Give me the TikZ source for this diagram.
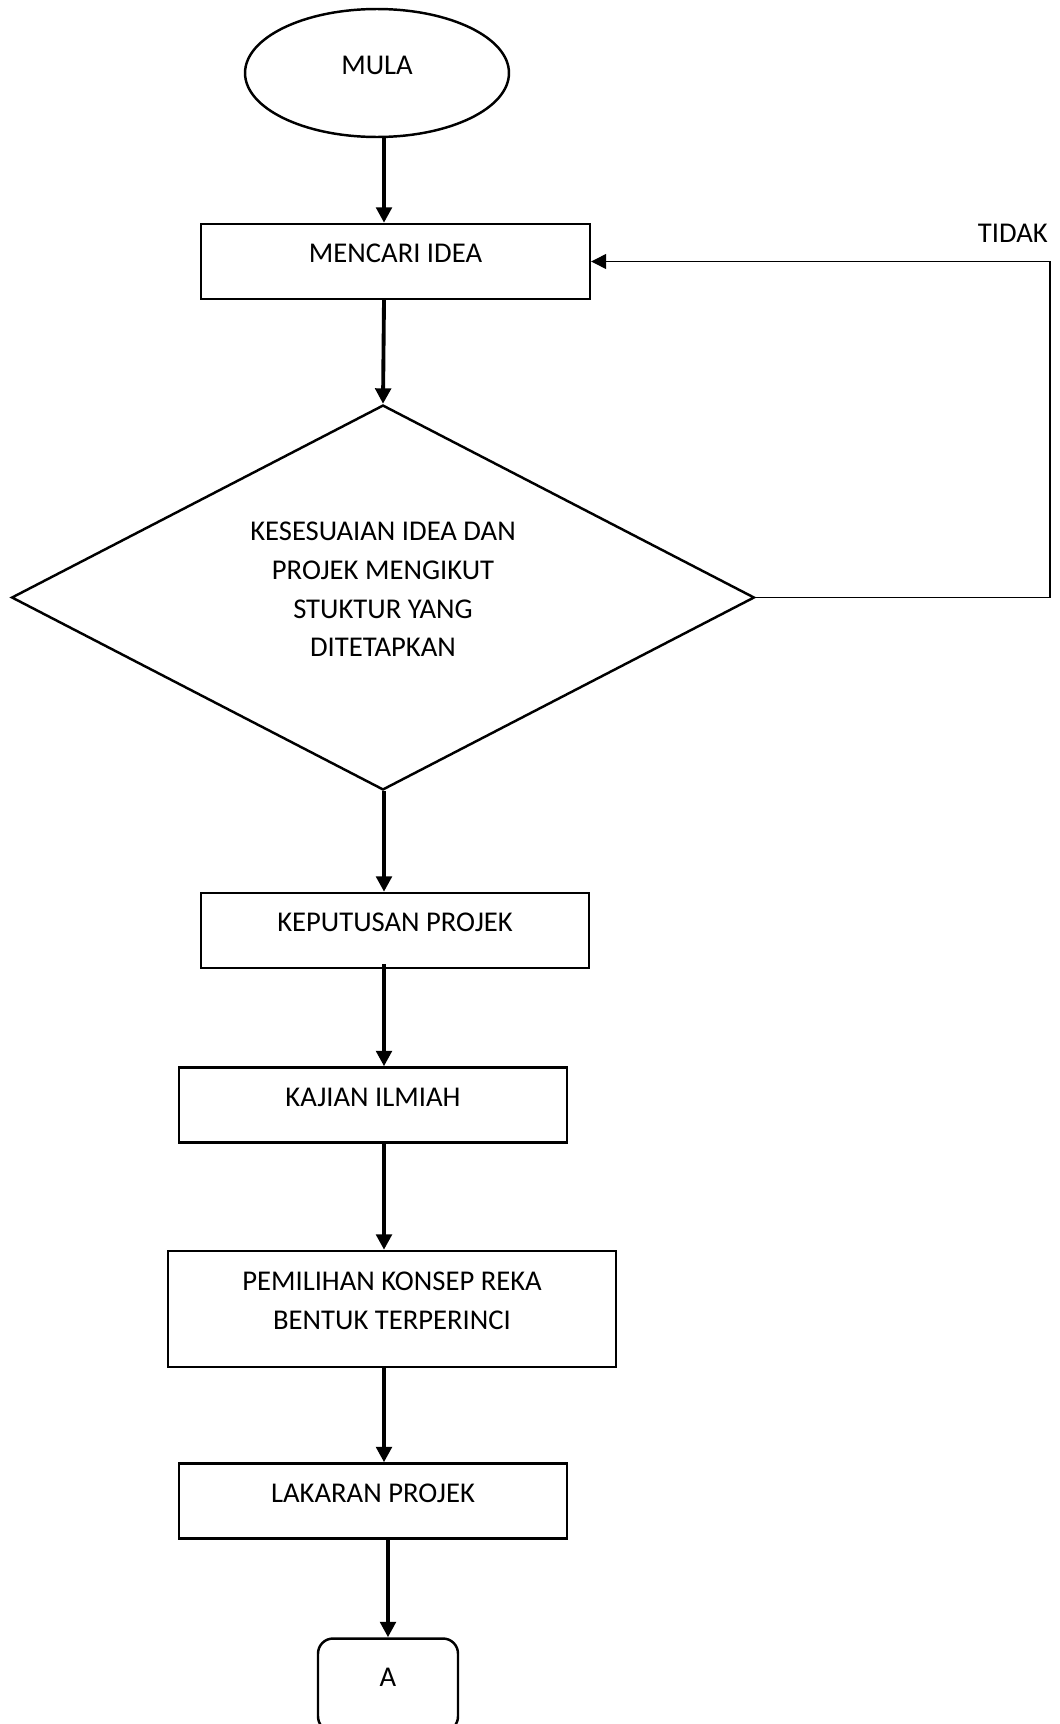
\documentclass[tikz,border=0pt]{standalone}
\usepackage{fontspec}
\setmainfont{Carlito}
\usetikzlibrary{shapes.geometric,arrows.meta}

\newcommand{\boxtxt}[1]{\raisebox{0.16cm}[\height][\depth]{#1}}

\begin{document}
\begin{tikzpicture}[
  x=0.02cm, y=-0.02cm,
  font=\fontsize{16.3}{22}\selectfont,
  every node/.style={draw, line width=1.4pt},
  procbox/.style={rectangle, minimum width=7.76cm, minimum height=1.5cm},
  decide/.style={diamond, aspect=2, align=center, minimum width=14.86cm, minimum height=7.7cm},
  flow/.style={line width=2.2pt, -{Triangle[length=0.31cm, width=0.31cm]}},
  back/.style={line width=0.7pt, -{Triangle[length=0.3cm, width=0.3cm]}}
]
\path[use as bounding box, clip] (0,0) rectangle (1059,1724);

% Start
\node[ellipse, minimum width=5.28cm, minimum height=2.56cm] (mula) at (377,73) {\boxtxt{MULA}};
% Steps
\node[procbox, minimum width=7.78cm] (idea) at (395.5,261.5) {\boxtxt{MENCARI IDEA}};
\node[decide] (sesuai) at (383,597.5)
  {\boxtxt{KESESUAIAN IDEA DAN}\\ \boxtxt{PROJEK MENGIKUT}\\ \boxtxt{STUKTUR YANG}\\ \boxtxt{DITETAPKAN}};
\node[procbox] (putus) at (395,930.5) {\boxtxt{KEPUTUSAN PROJEK}};
\node[procbox] (kajian) at (373,1105) {\boxtxt{KAJIAN ILMIAH}};
\node[procbox, minimum width=8.96cm, minimum height=2.32cm, align=center] (konsep) at (392,1309)
  {\boxtxt{PEMILIHAN KONSEP REKA}\\ \boxtxt{BENTUK TERPERINCI}};
\node[procbox] (lakaran) at (373,1501) {\boxtxt{LAKARAN PROJEK}};
% Connector to next page
\node[rectangle, rounded corners=0.3cm, minimum width=2.8cm, minimum height=1.86cm] (sambung) at (388,1685) {\boxtxt{A}};

\coordinate (spine) at (384,0);
\coordinate (loop) at (1050,0);

% Main flow
\draw[flow] (spine |- mula.south) -- (spine |- idea.north);
\draw[flow] (spine |- idea.south) -- (sesuai.north);
\draw[flow] (spine |- sesuai.south) -- (spine |- putus.north);
\draw[flow] ([yshift=0.1cm]spine |- putus.south) -- (spine |- kajian.north);
\draw[flow] (spine |- kajian.south) -- (spine |- konsep.north);
\draw[flow] (spine |- konsep.south) -- (spine |- lakaran.north);
\draw[flow] (sambung.north |- lakaran.south) -- (sambung.north);

% Back loop
\draw[back] (sesuai.east) -- (sesuai.east -| loop) |- (idea.east);
\node[draw=none, anchor=base east, inner sep=0pt] (tidak) at (1049,242) {TIDAK};
\end{tikzpicture}
\end{document}
